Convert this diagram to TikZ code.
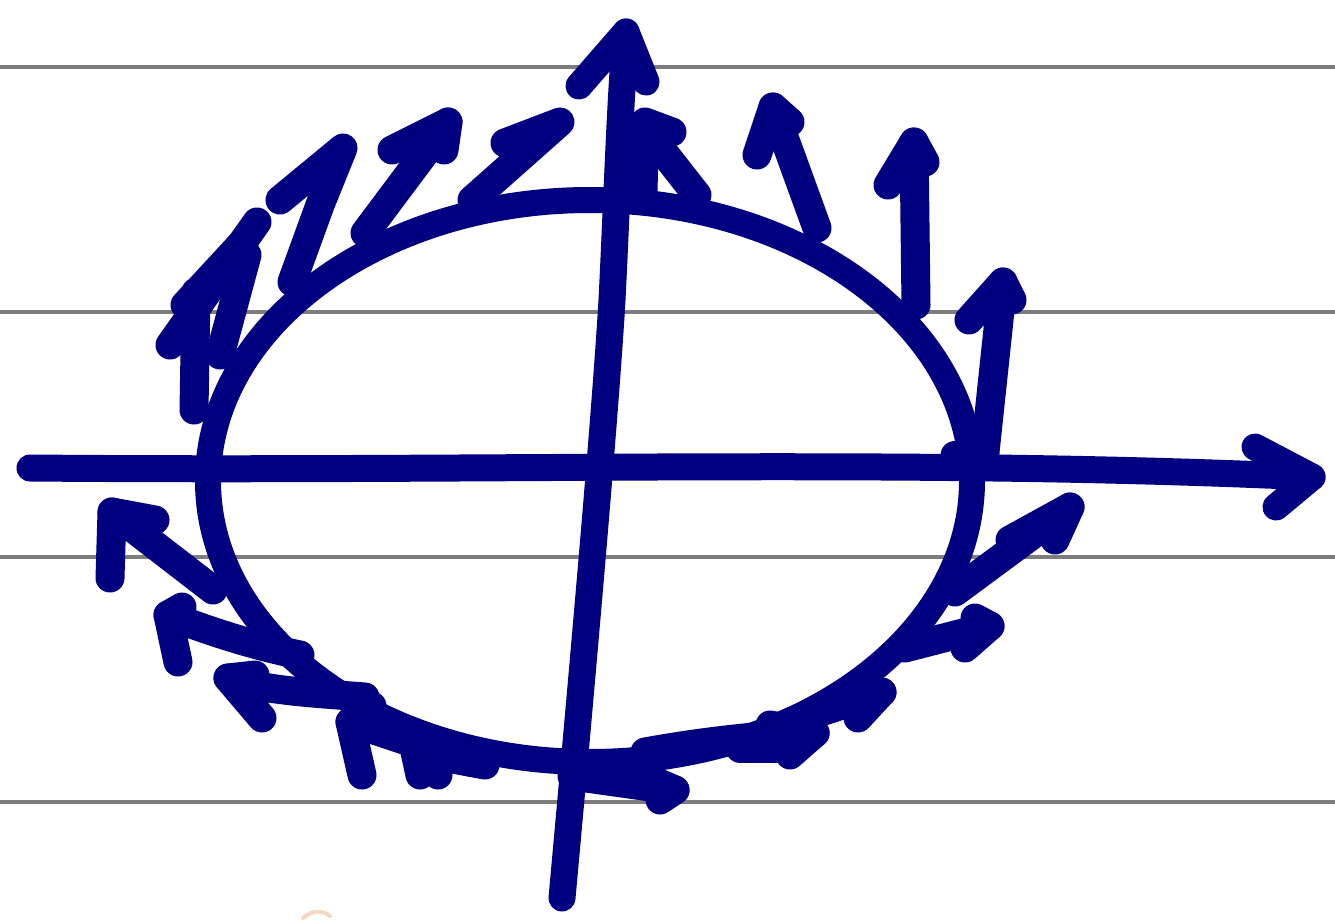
\documentclass[tikz,border=0pt]{standalone}
\definecolor{ink}{RGB}{0,0,128}
\definecolor{rulegray}{RGB}{125,125,125}
\definecolor{faint}{RGB}{245,215,195}
\tikzset{
  pen/.style={draw=ink, line width=29pt, line cap=round, line join=round},
  ruleline/.style={draw=rulegray, line width=4pt}
}
\begin{document}
\begin{tikzpicture}[x=1pt,y=-1pt]
\useasboundingbox (0,0) rectangle (1335,920);
\fill[white] (0,0) rectangle (1335,920);
% ruled lines
\foreach \yy in {67,312,557,802}{
  \draw[ruleline] (0,\yy) -- (1335,\yy);
}
% faint mark at bottom
\draw[faint, line width=4pt, line cap=round] (303,918) .. controls (312,910) and (322,910) .. (330,916);
% ellipse
\coordinate (c) at (590,481);
\draw[pen, line width=26pt] (c) ellipse [x radius=382pt, y radius=281pt];
% horizontal axis
\coordinate (hl) at (30,468);
\coordinate (hr) at (1312,477);
\draw[pen, line width=27pt] (hl) .. controls (500,472) and (900,458) .. (hr);
\draw[pen, line width=27pt] (1255,447) -- (hr) -- (1276,507);
% vertical axis
\coordinate (vb) at (562,898);
\coordinate (vt) at (626,32);
\draw[pen, line width=27pt] (vb) .. controls (580,700) and (605,420) .. (612,300) .. controls (617,200) and (620,100) .. (vt);
\draw[pen, line width=27pt] (579,86) -- (vt) -- (646,82);
% upper-left arrows
\draw[pen] (472,200) -- (560,122) -- (505,143);
\draw[pen] (365,233) -- (448,122) -- (392,150);
\draw[pen] (448,122) -- (444,150);
\draw[pen] (292,282) -- (320,205) -- (343,148) -- (280,200);
\draw[pen] (170,345) -- (257,222);
\draw[pen] (185,305) -- (245,240);
\draw[pen] (194,410) -- (196,292);
\draw[pen] (220,355) -- (247,255);
% upper-right arrows
\draw[pen] (643,190) -- (645,122) -- (672,132);
\draw[pen] (650,135) -- (697,195);
\draw[pen] (817,228) -- (773,107) -- (757,155);
\draw[pen] (773,107) -- (790,122);
\draw[pen] (916,305) -- (914,142) -- (888,185);
\draw[pen] (914,142) -- (925,162);
\draw[pen] (985,452) -- (1003,282) -- (969,320);
\draw[pen] (1003,282) -- (1012,300);
\draw[pen] (955,455) -- (985,455);
% lower-right arrows
\draw[pen] (955,592) -- (1070,507) -- (1010,540);
\draw[pen] (1070,507) -- (1055,540);
\draw[pen] (905,648) -- (990,626) -- (965,648);
\draw[pen] (990,626) -- (975,618);
\draw[pen] (790,722) -- (882,692) -- (858,718);
\draw[pen] (882,692) -- (862,692);
\draw[pen] (645,752) .. controls (700,742) and (760,735) .. (815,733);
\draw[pen] (815,733) -- (790,755);
\draw[pen] (815,733) -- (770,725);
\draw[pen] (740,748) -- (790,748);
\draw[pen] (572,776) -- (672,790);
\draw[pen] (675,790) -- (652,780);
\draw[pen] (675,790) -- (660,800);
% lower-left arrows
\draw[pen] (213,590) -- (112,512) -- (110,578);
\draw[pen] (112,512) -- (155,520);
\draw[pen] (300,655) .. controls (250,645) and (200,628) .. (168,615) -- (178,662);
\draw[pen] (168,615) -- (182,607);
\draw[pen] (365,697) .. controls (310,693) and (260,690) .. (228,678) -- (262,718);
\draw[pen] (228,678) -- (255,675);
\draw[pen] (470,762) -- (350,722) -- (362,775);
\draw[pen] (350,722) -- (372,706);
\draw[pen] (485,765) -- (415,752) -- (420,775);
\draw[pen] (430,755) -- (438,775);
\end{tikzpicture}
\end{document}
